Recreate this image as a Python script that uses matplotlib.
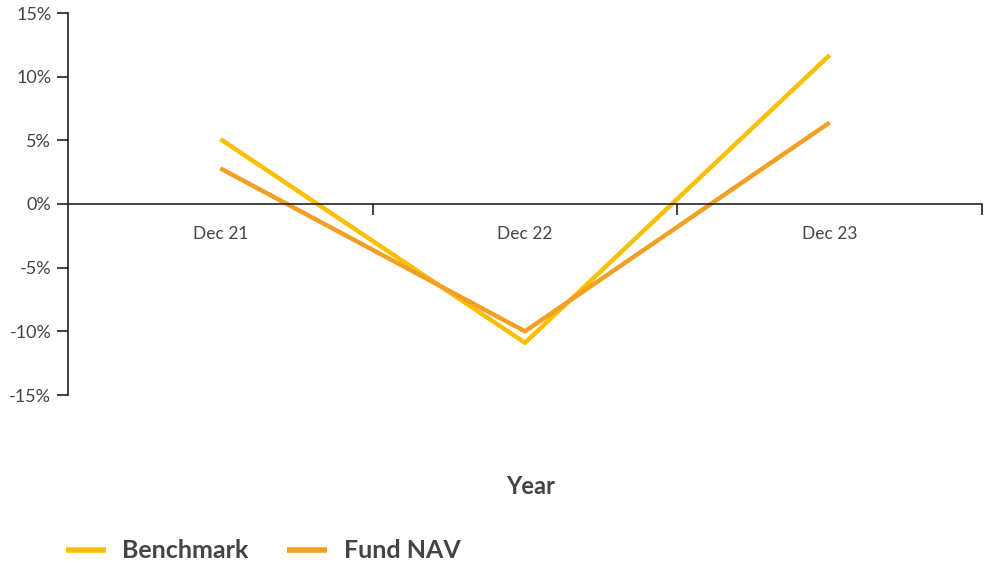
import matplotlib
matplotlib.use("Agg")
import matplotlib.pyplot as plt
from matplotlib.ticker import FuncFormatter

years = ["Dec 21", "Dec 22", "Dec 23"]
benchmark = [5.1, -10.9, 11.7]
fund_nav = [2.8, -10.0, 6.4]

plt.rcParams['font.family'] = ['Lato', 'DejaVu Sans']

fig = plt.figure(figsize=(9.89, 5.63), dpi=100)
ax = fig.add_axes([68/989, 1 - 395/563, (982 - 68)/989, (395 - 13)/563])

x = list(range(len(years)))
ax.plot(x, benchmark, color='#FABF00', lw=3.2, solid_capstyle='butt', label='Benchmark')
ax.plot(x, fund_nav, color='#F2A024', lw=3.2, solid_capstyle='butt', label='Fund NAV')

ax.set_xlim(-0.5, len(years) - 0.5)
ax.set_ylim(-15, 15)
ax.set_yticks([-15, -10, -5, 0, 5, 10, 15])
ax.yaxis.set_major_formatter(FuncFormatter(lambda v, p: "{:.0f}%".format(v)))

# category labels in the middle, tick marks on the boundaries
ax.set_xticks([i + 0.5 for i in x])
ax.set_xticklabels([])
ax.set_xticks(x, minor=True)
ax.set_xticklabels(years, minor=True)
ax.tick_params(axis='x', which='major', length=8, width=1.2, color='#222222')
ax.tick_params(axis='x', which='minor', length=0, pad=16, labelsize=12.5, labelcolor='#444444')
ax.tick_params(axis='y', length=8, width=1.2, color='#222222', labelsize=13, labelcolor='#444444', pad=4)

for s in ['top', 'right']:
    ax.spines[s].set_visible(False)
ax.spines['bottom'].set_position(('data', 0))
ax.spines['bottom'].set_color('#222222')
ax.spines['left'].set_color('#222222')
ax.spines['bottom'].set_linewidth(1.2)
ax.spines['left'].set_linewidth(1.2)

fig.text(531/989, 1 - 487/563, "Year", ha='center', va='center', fontsize=17,
         fontweight='bold', color='#444444')

leg = fig.legend(loc='center left', bbox_to_anchor=(66/989, 1 - 551/563), ncol=2, frameon=False,
                 prop={'size': 18, 'weight': 'bold'}, labelcolor='#444444', handlelength=1.6,
                 columnspacing=1.55, handletextpad=0.65, borderpad=0, borderaxespad=0)
for h in leg.legend_handles:
    h.set_linewidth(4)

fig.savefig("out.png", dpi=100)
